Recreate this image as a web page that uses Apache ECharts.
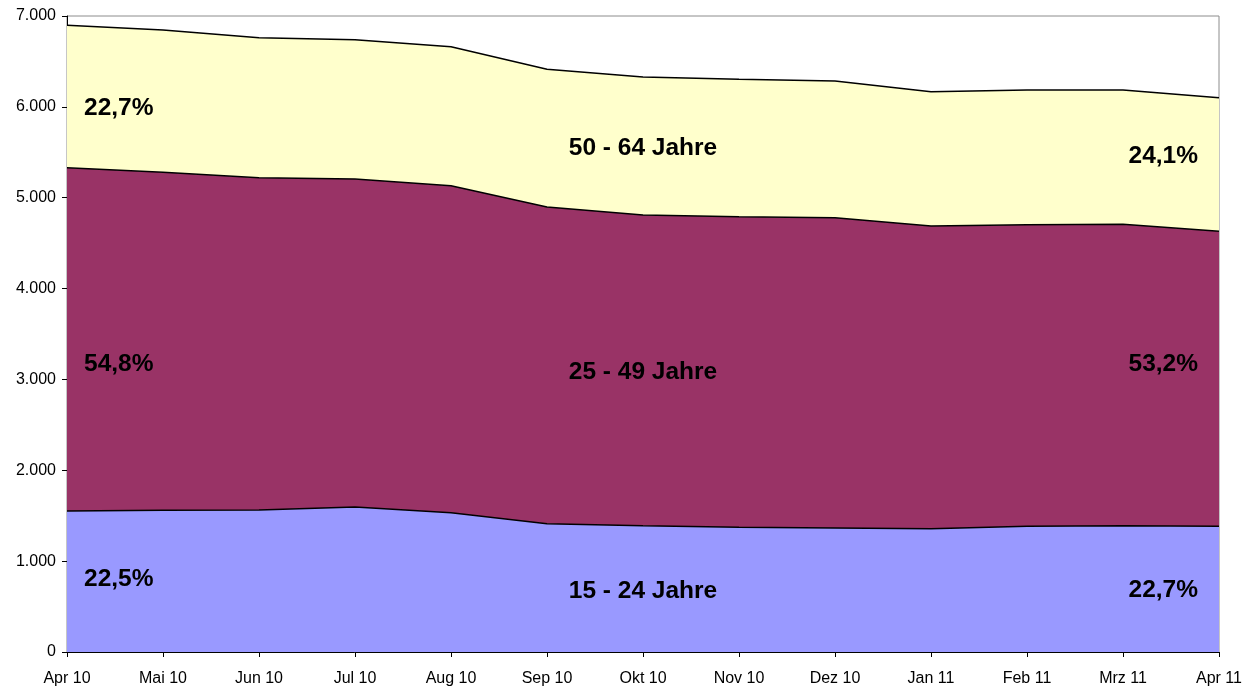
<!DOCTYPE html>
<html>
<head>
<meta charset="utf-8">
<script src="https://cdn.jsdelivr.net/npm/echarts@6/dist/echarts.min.js"></script>
<style>html,body{margin:0;padding:0;background:#fff}#c{width:1259px;height:690px}</style>
</head>
<body>
<div id="c"></div>
<script>
const categories = ['Apr 10','Mai 10','Jun 10','Jul 10','Aug 10','Sep 10','Okt 10','Nov 10','Dez 10','Jan 11','Feb 11','Mrz 11','Apr 11'];
const age15to24 = [1552,1559,1563,1596,1533,1412,1390,1372,1365,1357,1383,1390,1385];
const age25to49 = [3778,3720,3657,3610,3599,3486,3420,3419,3415,3332,3320,3317,3245];
const age50to64 = [1568,1567,1541,1533,1530,1515,1519,1512,1505,1478,1483,1479,1471];
const seriesNames = ['15 - 24 Jahre','25 - 49 Jahre','50 - 64 Jahre'];
const startShares = ['22,5%','54,8%','22,7%'];
const endShares = ['22,7%','53,2%','24,1%'];

const chart = echarts.init(document.getElementById('c'));
const font = 'Arial, "Liberation Sans", sans-serif';
const lblStyle = {fontFamily: font, fontSize: 24.5, fontWeight: 'bold', fill: '#000'};

function txt(text, x, y, align) {
  return {type: 'text', x: x, y: y, z: 100,
    style: Object.assign({text: text, textAlign: align, textVerticalAlign: 'middle'}, lblStyle)};
}

const mk = (name, data, color) => ({
  name: name, type: 'line', stack: 'total', data: data,
  showSymbol: false, symbol: 'none',
  lineStyle: {color: '#000', width: 1.5},
  areaStyle: {color: color, opacity: 1},
  itemStyle: {color: color}
});

chart.setOption({
  animation: false,
  backgroundColor: '#fff',
  grid: {left: 67, right: 40, top: 16, bottom: 38, show: true, borderColor: '#8c8c8c', borderWidth: 1, backgroundColor: 'transparent'},
  xAxis: {
    type: 'category', data: categories, boundaryGap: false,
    axisLine: {lineStyle: {color: '#000', width: 1}},
    axisTick: {show: true, length: 5, lineStyle: {color: '#000'}},
    axisLabel: {color: '#000', fontFamily: font, fontSize: 16, margin: 19, interval: 0}
  },
  yAxis: {
    type: 'value', min: 0, max: 7000, interval: 1000,
    axisLine: {show: true, lineStyle: {color: '#000', width: 1}},
    axisTick: {show: true, length: 5, lineStyle: {color: '#000'}},
    splitLine: {show: false},
    axisLabel: {color: '#000', fontFamily: font, fontSize: 16, margin: 11,
      formatter: v => String(v).replace(/\B(?=(\d{3})+(?!\d))/g, '.')}
  },
  series: [
    mk(seriesNames[0], age15to24, '#9999FF'),
    mk(seriesNames[1], age25to49, '#993366'),
    mk(seriesNames[2], age50to64, '#FFFFCC')
  ],
  graphic: [
    txt(startShares[2], 84, 108.5, 'left'),
    txt(startShares[1], 84, 364.5, 'left'),
    txt(startShares[0], 84, 579.5, 'left'),
    txt(seriesNames[2], 643, 148.5, 'center'),
    txt(seriesNames[1], 643, 372.5, 'center'),
    txt(seriesNames[0], 643, 591.5, 'center'),
    txt(endShares[2], 1198, 156.5, 'right'),
    txt(endShares[1], 1198, 364.5, 'right'),
    txt(endShares[0], 1198, 590.5, 'right')
  ]
});
</script>
</body>
</html>
